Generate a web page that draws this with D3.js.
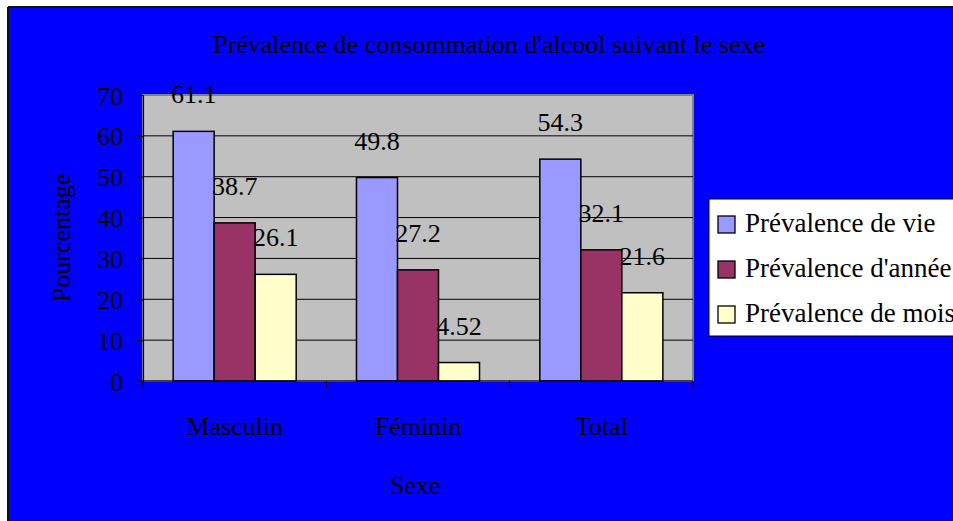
<!DOCTYPE html>
<html lang="fr">
<head>
  <meta charset="UTF-8" />
  <title>Prévalence de consommation d'alcool suivant le sexe</title>
  <script src="https://d3js.org/d3.v7.min.js"></script>
  <style>
    body { margin: 0; background: #fff; }
    svg text { font-family: "Liberation Serif", "Times New Roman", serif; fill: #000; }
  </style>
</head>
<body>
  <svg id="chart" width="953" height="521"></svg>
  <script>
    // data
    const categories = ["Masculin", "Féminin", "Total"];
    const seriesNames = ["Prévalence de vie", "Prévalence d'année", "Prévalence de mois"];
    const prevVie = [61.1, 49.8, 54.3];
    const prevAnnee = [38.7, 27.2, 32.1];
    const prevMois = [26.1, 4.52, 21.6];
    const yTicks = [0, 10, 20, 30, 40, 50, 60, 70];
    const colors = ["#9999ff", "#993366", "#ffffcc"];

    const series = [prevVie, prevAnnee, prevMois];

    const svg = d3.select("#chart");

    // blue chart background with black frame on top / left
    svg.append("rect").attr("x", 8).attr("y", 7).attr("width", 960).attr("height", 530)
      .attr("fill", "#0000ff");
    svg.append("line").attr("x1", 8).attr("x2", 953).attr("y1", 7).attr("y2", 7)
      .attr("stroke", "#111").attr("stroke-width", 2);
    svg.append("line").attr("x1", 8).attr("x2", 8).attr("y1", 7).attr("y2", 521)
      .attr("stroke", "#111").attr("stroke-width", 2);

    const plot = { left: 143, right: 693, top: 95, bottom: 381 };

    const y = d3.scaleLinear().domain([0, 70]).range([plot.bottom, plot.top]);
    const x0 = d3.scaleBand().domain(categories).range([plot.left, plot.right])
      .paddingInner(0).paddingOuter(0);
    const x1 = d3.scaleBand().domain(d3.range(seriesNames.length))
      .range([0, x0.bandwidth()]).paddingOuter(0.735).paddingInner(0);

    // plot area
    svg.append("rect")
      .attr("x", plot.left).attr("y", plot.top)
      .attr("width", plot.right - plot.left).attr("height", plot.bottom - plot.top)
      .attr("fill", "#c0c0c0").attr("stroke", "#808080").attr("stroke-width", 2);

    // grid lines
    svg.append("g").selectAll("line").data(yTicks.filter(d => d > 0 && d < 70)).join("line")
      .attr("x1", plot.left).attr("x2", plot.right)
      .attr("y1", d => y(d)).attr("y2", d => y(d))
      .attr("stroke", "#000").attr("stroke-width", 1);

    // bars
    const groups = svg.append("g").selectAll("g").data(categories).join("g")
      .attr("transform", d => `translate(${x0(d)},0)`);

    groups.selectAll("rect").data((c, i) => series.map((s, k) => ({ k, v: s[i] }))).join("rect")
      .attr("x", d => x1(d.k)).attr("width", x1.bandwidth())
      .attr("y", d => y(d.v)).attr("height", d => y(0) - y(d.v))
      .attr("fill", d => colors[d.k]).attr("stroke", "#000").attr("stroke-width", 1.5);

    groups.selectAll("text").data((c, i) => series.map((s, k) => ({ k, v: s[i] }))).join("text")
      .attr("x", d => x1(d.k) + x1.bandwidth() / 2)
      .attr("y", d => y(d.v) - 28)
      .attr("text-anchor", "middle")
      .style("font-size", "26px")
      .text(d => d.v);

    // y axis
    const yAxis = svg.append("g").attr("transform", `translate(${plot.left},0)`)
      .call(d3.axisLeft(y).tickValues(yTicks).tickSize(6).tickPadding(14));
    yAxis.select(".domain").attr("stroke", "#000").attr("stroke-width", 1.2);
    yAxis.selectAll("text").style("font-size", "26px").attr("dy", "0.35em");

    // x axis: ticks at category borders
    svg.append("line").attr("x1", plot.left - 6).attr("x2", plot.right)
      .attr("y1", plot.bottom).attr("y2", plot.bottom)
      .attr("stroke", "#000").attr("stroke-width", 1.2);
    const borders = categories.map(c => x0(c)).concat([x0.range()[1]]);
    svg.append("g").selectAll("line").data(borders).join("line")
      .attr("x1", d => d).attr("x2", d => d)
      .attr("y1", plot.bottom).attr("y2", plot.bottom + 7)
      .attr("stroke", "#000").attr("stroke-width", 1.2);
    svg.append("g").selectAll("text").data(categories).join("text")
      .attr("x", d => x0(d) + x0.bandwidth() / 2).attr("y", 435)
      .attr("text-anchor", "middle").style("font-size", "26px")
      .text(d => d);

    // titles
    svg.append("text").attr("x", 489).attr("y", 53).attr("text-anchor", "middle")
      .style("font-size", "26px")
      .text("Prévalence de consommation d'alcool suivant le sexe");
    svg.append("text").attr("x", 415).attr("y", 494).attr("text-anchor", "middle")
      .style("font-size", "26px").text("Sexe");
    svg.append("text").attr("transform", "translate(70,238) rotate(-90)")
      .attr("text-anchor", "middle").style("font-size", "26px").text("Pourcentage");

    // legend
    const legend = svg.append("g");
    legend.append("rect").attr("x", 709).attr("y", 199).attr("width", 260).attr("height", 137)
      .attr("fill", "#fff").attr("stroke", "#000").attr("stroke-width", 1);
    const items = legend.selectAll("g").data(seriesNames).join("g")
      .attr("transform", (d, i) => `translate(0,${216 + i * 45})`);
    items.append("rect").attr("x", 718).attr("y", 0).attr("width", 17).attr("height", 17)
      .attr("fill", (d, i) => colors[i]).attr("stroke", "#000").attr("stroke-width", 1.3);
    items.append("text").attr("x", 745).attr("y", 16).style("font-size", "27px").text(d => d);
  </script>
</body>
</html>
